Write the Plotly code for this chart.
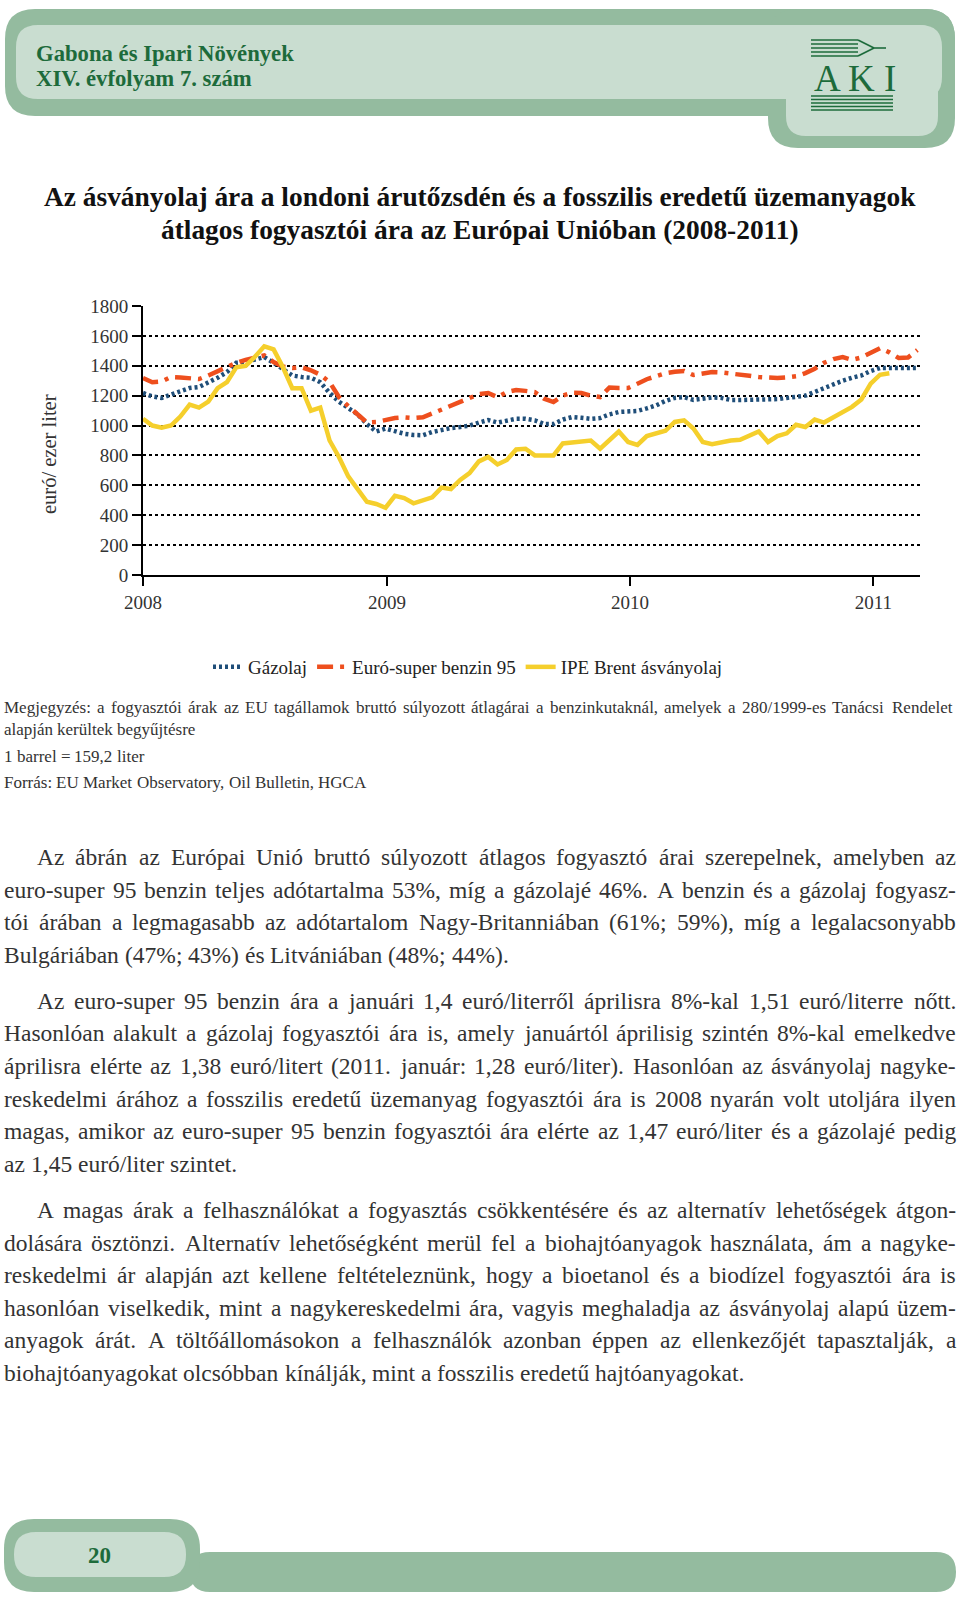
import unicodedata
import plotly.graph_objects as go
import pandas as pd

W, H = 960, 1599
FONT = "Liberation Serif"
GREEN = "#1d6b3b"

# ---------------- data (euro / 1000 liter), two-weekly from 2008-01-01 ----------------
gazolaj = [1218, 1195, 1185, 1205, 1232, 1251, 1258, 1285, 1320, 1358,
           1420, 1425, 1440, 1458, 1420, 1375, 1335, 1325, 1320, 1290,
           1218, 1160, 1120, 1075, 1010, 960, 980, 960, 945, 937,
           935, 957, 972, 983, 990, 1000, 1020, 1037, 1020, 1030,
           1045, 1045, 1035, 1010, 1010, 1040, 1057, 1052, 1045, 1050,
           1075, 1091, 1091, 1098, 1115, 1135, 1165, 1185, 1190, 1172,
           1180, 1188, 1185, 1171, 1171, 1171, 1171, 1173, 1177, 1185,
           1193, 1200, 1225, 1251, 1278, 1300, 1320, 1335, 1365, 1385,
           1385, 1385, 1385, 1385]
benzin = [1318, 1290, 1295, 1325, 1322, 1315, 1311, 1335, 1365, 1390,
          1420, 1440, 1455, 1470, 1425, 1395, 1385, 1390, 1370, 1340,
          1291, 1191, 1130, 1070, 1020, 1024, 1037, 1050, 1055, 1050,
          1055, 1080, 1110, 1130, 1160, 1180, 1210, 1218, 1190, 1224,
          1238, 1232, 1224, 1180, 1157, 1200, 1220, 1218, 1200, 1191,
          1255, 1251, 1251, 1280, 1310, 1330, 1350, 1360, 1365, 1338,
          1348, 1358, 1355, 1350, 1340, 1333, 1325, 1320, 1318, 1322,
          1330, 1351, 1380, 1420, 1445, 1458, 1440, 1455, 1490, 1518,
          1490, 1452, 1455, 1505]
brent = [1045, 1000, 985, 1000, 1060, 1140, 1120, 1160, 1250, 1290,
         1390, 1400, 1460, 1530, 1510, 1390, 1250, 1250, 1100, 1120,
         900, 790, 660, 570, 490, 475, 450, 530, 515, 480,
         502, 520, 585, 575, 636, 682, 760, 790, 740, 770,
         840, 845, 800, 800, 800, 880, 885, 890, 900, 845,
         900, 960, 890, 870, 930, 945, 965, 1024, 1035, 980,
         890, 875, 890, 900, 905, 930, 960, 890, 930, 948,
         1005, 990, 1040, 1020, 1055, 1090, 1125, 1175, 1280, 1340,
         1350]

dates = pd.date_range("2008-01-01", periods=len(gazolaj), freq="14D")
year_ticks = ["2008-01-01", "2009-01-01", "2010-01-01", "2011-01-01"]
year_labels = ["2008", "2009", "2010", "2011"]
y_ticks = [0, 200, 400, 600, 800, 1000, 1200, 1400, 1600, 1800]

series_names = ["Gázolaj", "Euró-super benzin 95", "IPE Brent ásványolaj"]

fig = go.Figure()
fig.add_trace(go.Scatter(x=dates, y=gazolaj, mode="lines", name=series_names[0],
                         line=dict(color="#1f4e79", width=4.5, dash="3px,3px")))
fig.add_trace(go.Scatter(x=dates, y=benzin, mode="lines", name=series_names[1],
                         line=dict(color="#ee4f1e", width=4.5, dash="16px,7px,4px,7px")))
fig.add_trace(go.Scatter(x=dates[:len(brent)], y=brent, mode="lines", name=series_names[2],
                         line=dict(color="#f5cf2c", width=4.5)))


def px(x):
    return x / W


def py(y):
    return 1 - y / H


def rrect(x0, y0, x1, y1, r):
    p = [f"M {px(x0 + r)} {py(y0)}",
         f"L {px(x1 - r)} {py(y0)}",
         f"Q {px(x1)} {py(y0)} {px(x1)} {py(y0 + r)}",
         f"L {px(x1)} {py(y1 - r)}",
         f"Q {px(x1)} {py(y1)} {px(x1 - r)} {py(y1)}",
         f"L {px(x0 + r)} {py(y1)}",
         f"Q {px(x0)} {py(y1)} {px(x0)} {py(y1 - r)}",
         f"L {px(x0)} {py(y0 + r)}",
         f"Q {px(x0)} {py(y0)} {px(x0 + r)} {py(y0)}",
         "Z"]
    return " ".join(p)


shapes = []


def add_rr(x0, y0, x1, y1, r, color):
    shapes.append(dict(type="path", xref="paper", yref="paper", path=rrect(x0, y0, x1, y1, r),
                       fillcolor=color, line=dict(width=0), layer="below"))


def add_line(x0, y0, x1, y1, color=GREEN, width=1.5):
    shapes.append(dict(type="line", xref="paper", yref="paper", x0=px(x0), y0=py(y0),
                       x1=px(x1), y1=py(y1), line=dict(color=color, width=width)))


OUTER = "#94bb9f"
INNER = "#c9ddd0"
# header
add_rr(5, 9, 955, 116, 30, OUTER)
add_rr(768, 9, 955, 148, 30, OUTER)
add_rr(16, 25, 942, 99, 22, INNER)
add_rr(786, 25, 938, 136, 20, INNER)
# footer
add_rr(190, 1552, 956, 1592, 20, OUTER)
add_rr(4, 1519, 200, 1592, 30, OUTER)
add_rr(14, 1532, 186, 1577, 22, INNER)

# logo lines (wheat + book)
for yy in [40, 44, 48, 52, 56]:
    add_line(811, yy, 858, yy, width=1.6)
add_line(858, 40, 874, 48, width=1.6)
add_line(858, 56, 874, 48, width=1.6)
add_line(874, 48, 886, 48, width=1.6)
for yy in [96, 99.5, 103, 106.5, 110]:
    add_line(811, yy, 893, yy, width=1.6)

annotations = []


def text(x, y, s, size, color="#333", bold=False, anchor="left", angle=0):
    annotations.append(dict(x=px(x), y=py(y), xref="paper", yref="paper", text=(f"<b>{s}</b>" if bold else s),
                            showarrow=False, xanchor=anchor, yanchor="middle", textangle=angle,
                            borderpad=0, font=dict(family=FONT, size=size, color=color)))


# approximate Times/Liberation Serif advance widths (1/1000 em) for justification
CW = {' ': 250, 'a': 444, 'b': 500, 'c': 444, 'd': 500, 'e': 444, 'f': 333, 'g': 500, 'h': 500,
      'i': 278, 'j': 278, 'k': 500, 'l': 278, 'm': 778, 'n': 500, 'o': 500, 'p': 500, 'q': 500,
      'r': 333, 's': 389, 't': 278, 'u': 500, 'v': 500, 'w': 722, 'x': 500, 'y': 500, 'z': 444,
      'A': 722, 'B': 667, 'C': 667, 'D': 722, 'E': 611, 'F': 556, 'G': 722, 'H': 722, 'I': 333,
      'J': 389, 'K': 722, 'L': 611, 'M': 889, 'N': 722, 'O': 722, 'P': 556, 'Q': 722, 'R': 667,
      'S': 556, 'T': 611, 'U': 722, 'V': 722, 'W': 944, 'X': 722, 'Y': 722, 'Z': 611,
      '.': 250, ',': 250, '-': 333, '(': 333, ')': 333, '%': 833, ';': 278, ':': 278, '/': 278,
      '=': 564}


def units(word):
    tot = 0
    for ch in word:
        base = unicodedata.normalize("NFD", ch)[0]
        tot += CW.get(base, 500)
    return tot


def fit_size(lines, target_fn, max_size):
    best = max_size
    for x0, s, just in lines:
        if not just:
            continue
        words = s.split(" ")
        u = sum(units(w) for w in words) + (len(words) - 1) * 170
        best = min(best, (target_fn - x0) * 1000 / u)
    return best


def place_line(x0, x1, y, s, size, justify, color="#333"):
    words = s.split(" ")
    ws = [units(w) * size / 1000 for w in words]
    if justify and len(words) > 1:
        gap = (x1 - x0 - sum(ws)) / (len(words) - 1)
    else:
        gap = 250 * size / 1000
    x = x0
    for w, wd in zip(words, ws):
        text(x, y, w, size, color)
        x += wd + gap


text(35, 53, "Gabona és Ipari Növények", 22.7, GREEN, bold=True)
text(35, 79, "XIV. évfolyam 7. szám", 22.7, GREEN, bold=True)
text(855, 78, "A K I", 37, GREEN, anchor="center")
text(99, 1555, "20", 23, GREEN, bold=True, anchor="center")

text(480, 197, "Az ásványolaj ára a londoni árutőzsdén és a fosszilis eredetű üzemanyagok", 27.4, "#111", bold=True, anchor="center")
text(480, 230, "átlagos fogyasztói ára az Európai Unióban (2008-2011)", 27.4, "#111", bold=True, anchor="center")

text(49, 454, "euró/ ezer liter", 20.5, "#333", anchor="center", angle=-90)

notes = [(3, 707, "Megjegyzés: a fogyasztói árak az EU tagállamok bruttó súlyozott átlagárai a benzinkutaknál, amelyek a 280/1999-es Tanácsi Rendelet", True),
         (3, 729, "alapján kerültek begyűjtésre", False),
         (3, 756, "1 barrel = 159,2 liter", False),
         (3, 782, "Forrás: EU Market Observatory, Oil Bulletin, HGCA", False)]
note_size = fit_size([(x, s, j) for x, _, s, j in notes], 951, 17)
for x, yy, s, j in notes:
    place_line(x, 951, yy, s, note_size, j)

body = [
    (36, 857, "Az ábrán az Európai Unió bruttó súlyozott átlagos fogyasztó árai szerepelnek, amelyben az", True),
    (3, 890, "euro-super 95 benzin teljes adótartalma 53%, míg a gázolajé 46%. A benzin és a gázolaj fogyasz-", True),
    (3, 922, "tói árában a legmagasabb az adótartalom Nagy-Britanniában (61%; 59%), míg a legalacsonyabb", True),
    (3, 955, "Bulgáriában (47%; 43%) és Litvániában (48%; 44%).", False),
    (36, 1001, "Az euro-super 95 benzin ára a januári 1,4 euró/literről áprilisra 8%-kal 1,51 euró/literre nőtt.", True),
    (3, 1033, "Hasonlóan alakult a gázolaj fogyasztói ára is, amely januártól áprilisig szintén 8%-kal emelkedve", True),
    (3, 1066, "áprilisra elérte az 1,38 euró/litert (2011. január: 1,28 euró/liter). Hasonlóan az ásványolaj nagyke-", True),
    (3, 1099, "reskedelmi árához a fosszilis eredetű üzemanyag fogyasztói ára is 2008 nyarán volt utoljára ilyen", True),
    (3, 1131, "magas, amikor az euro-super 95 benzin fogyasztói ára elérte az 1,47 euró/liter és a gázolajé pedig", True),
    (3, 1164, "az 1,45 euró/liter szintet.", False),
    (36, 1210, "A magas árak a felhasználókat a fogyasztás csökkentésére és az alternatív lehetőségek átgon-", True),
    (3, 1243, "dolására ösztönzi. Alternatív lehetőségként merül fel a biohajtóanyagok használata, ám a nagyke-", True),
    (3, 1275, "reskedelmi ár alapján azt kellene feltételeznünk, hogy a bioetanol és a biodízel fogyasztói ára is", True),
    (3, 1308, "hasonlóan viselkedik, mint a nagykereskedelmi ára, vagyis meghaladja az ásványolaj alapú üzem-", True),
    (3, 1340, "anyagok árát. A töltőállomásokon a felhasználók azonban éppen az ellenkezőjét tapasztalják, a", True),
    (3, 1373, "biohajtóanyagokat olcsóbban kínálják, mint a fosszilis eredetű hajtóanyagokat.", False),
]
body_size = fit_size([(x, s, j) for x, _, s, j in body], 955, 23.5)
for x, yy, s, j in body:
    place_line(x, 955, yy, s, body_size, j)

fig.update_layout(
    width=W, height=H,
    margin=dict(l=0, r=0, t=0, b=0, autoexpand=False),
    paper_bgcolor="white", plot_bgcolor="white",
    font=dict(family=FONT, color="#222"),
    shapes=shapes,
    annotations=annotations,
    showlegend=True,
    legend=dict(orientation="h", x=468 / W, xanchor="center", y=py(667), yanchor="middle",
                font=dict(family=FONT, size=19, color="#222"), bgcolor="rgba(0,0,0,0)",
                itemwidth=30, tracegroupgap=0),
    xaxis=dict(domain=[143 / W, 920 / W], type="date",
               range=["2008-01-01", "2011-03-12"],
               tickmode="array", tickvals=year_ticks, ticktext=year_labels,
               showgrid=False, showline=True, linecolor="black", linewidth=2,
               ticks="outside", ticklen=9, tickwidth=2, tickcolor="black",
               tickfont=dict(family=FONT, size=19, color="#333"), zeroline=False),
    yaxis=dict(domain=[py(575), py(306)], range=[0, 1800],
               tickmode="array", tickvals=y_ticks,
               showgrid=True, gridcolor="black", gridwidth=2, griddash="dot",
               showline=True, linecolor="black", linewidth=2,
               ticks="outside", ticklen=9, tickwidth=2, tickcolor="black",
               tickfont=dict(family=FONT, size=19, color="#333"), zeroline=False),
)

fig.write_html("out.html", config={"displayModeBar": False},
               post_script="document.body.style.margin='0px';document.body.style.overflow='hidden';")
